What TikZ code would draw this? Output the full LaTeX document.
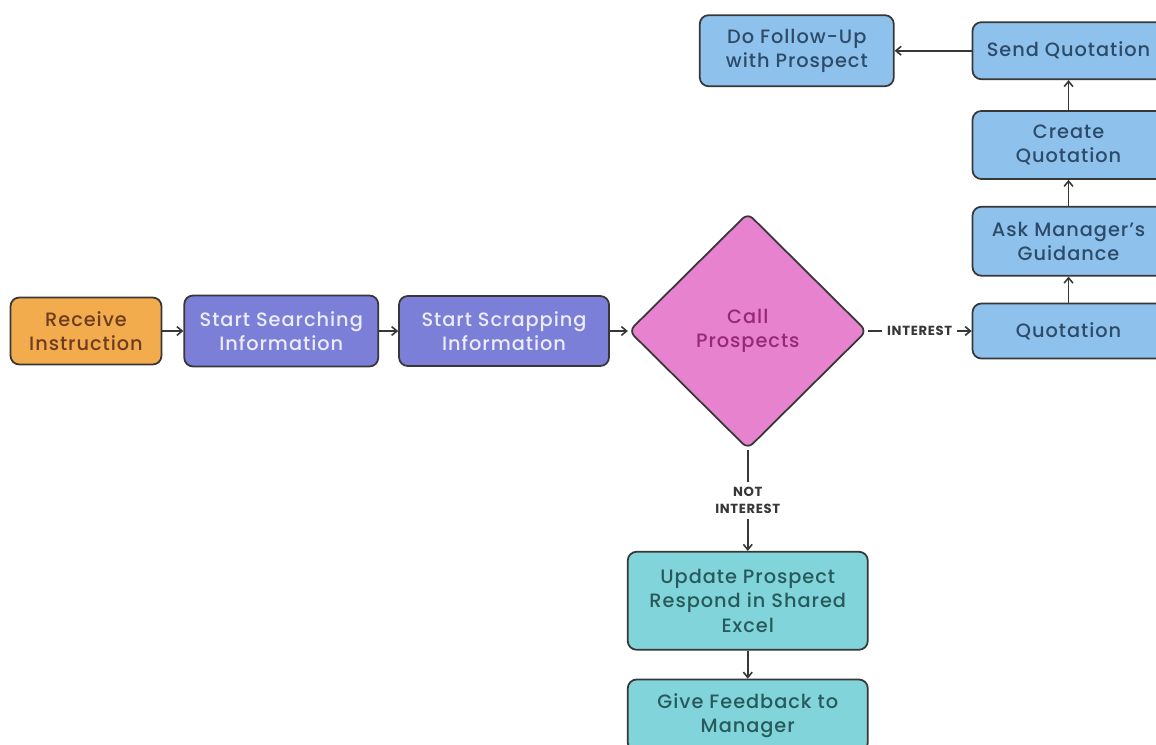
\documentclass[tikz,border=0pt]{standalone}
\usepackage{fontspec}
\IfFontExistsTF{Poppins Medium}
  {\setmainfont{Poppins Medium}[LetterSpace=5, BoldFont=Poppins Bold]}
  {\setmainfont{Poppins}[LetterSpace=5]}
\usepackage{xcolor}
\usepackage{tikz}
\usetikzlibrary{shapes.geometric, arrows.meta, positioning}
\definecolor{flowline}{RGB}{55,55,55}
\definecolor{startfill}{RGB}{242,172,78}
\definecolor{starttext}{RGB}{110,60,30}
\definecolor{taskfill}{RGB}{124,127,216}
\definecolor{tasktext}{RGB}{236,236,250}
\definecolor{callfill}{RGB}{230,130,206}
\definecolor{calltext}{RGB}{150,40,120}
\definecolor{quotefill}{RGB}{142,194,236}
\definecolor{quotetext}{RGB}{45,75,105}
\definecolor{updfill}{RGB}{128,212,218}
\definecolor{updtext}{RGB}{40,90,92}

\begin{document}
\begin{tikzpicture}[
  box/.style={draw=flowline, line width=1pt, rounded corners=5pt,
              align=center, inner sep=2pt,
              font=\fontsize{11}{14}\selectfont},
  start/.style={box, fill=startfill, text=starttext},
  task/.style={box, fill=taskfill, text=tasktext},
  quote/.style={box, fill=quotefill, text=quotetext, minimum width=3.84cm},
  update/.style={box, fill=updfill, text=updtext, minimum width=4.8cm},
  decision/.style={diamond, draw=flowline, line width=1pt, fill=callfill,
                   text=calltext, rounded corners=4pt, align=center,
                   minimum width=4.76cm, minimum height=4.72cm, inner sep=0pt,
                   font=\fontsize{11}{14}\selectfont},
  arrow/.style={-{Straight Barb[length=3pt,width=5pt]}, line width=0.9pt, flowline},
  cond/.style={font=\fontsize{7.5}{10}\selectfont\bfseries, text=flowline,
               fill=white, inner sep=3pt, align=center},
]

\useasboundingbox[fill=white] (0,0) rectangle (23.12,-14.9);

% main row
\node[start, minimum width=3.02cm, minimum height=1.34cm] (recv) at (1.72,-6.62)
  {Receive\\Instruction};
\node[task, minimum width=3.88cm, minimum height=1.42cm, right=0.42cm of recv] (search)
  {Start Searching\\Information};
\node[task, minimum width=4.2cm, minimum height=1.4cm, right=0.38cm of search] (scrap)
  {Start Scrapping\\Information};
\node[decision, right=0.36cm of scrap] (call) {Call\\Prospects};

% interested branch
\node[quote, minimum height=1.1cm, right=2.08cm of call] (quot) {Quotation};
\node[quote, minimum height=1.38cm, above=0.52cm of quot] (ask) {Ask Manager's\\Guidance};
\node[quote, minimum height=1.36cm, above=0.52cm of ask] (create) {Create\\Quotation};
\node[quote, minimum height=1.14cm, above=0.6cm of create] (send) {Send Quotation};
\node[quote, minimum width=3.88cm, minimum height=1.42cm, left=1.54cm of send] (follow)
  {Do Follow-Up\\with Prospect};

% not interested branch
\node[update, minimum height=1.96cm, below=2.02cm of call] (upd)
  {Update Prospect\\Respond in Shared\\Excel};
\node[update, minimum height=1.44cm, below=0.56cm of upd] (feed)
  {Give Feedback to\\Manager};

\draw[arrow] (recv) -- (search);
\draw[arrow] (search) -- (scrap);
\draw[arrow] (scrap) -- (call);
\draw[arrow] (call) -- node[cond]{INTEREST} (quot);
\draw[arrow] (quot) -- (ask);
\draw[arrow] (ask) -- (create);
\draw[arrow] (create) -- (send);
\draw[arrow] (send) -- (follow);
\draw[arrow] (call) -- node[cond]{NOT\\INTEREST} (upd);
\draw[arrow] (upd) -- (feed);

\end{tikzpicture}
\end{document}
